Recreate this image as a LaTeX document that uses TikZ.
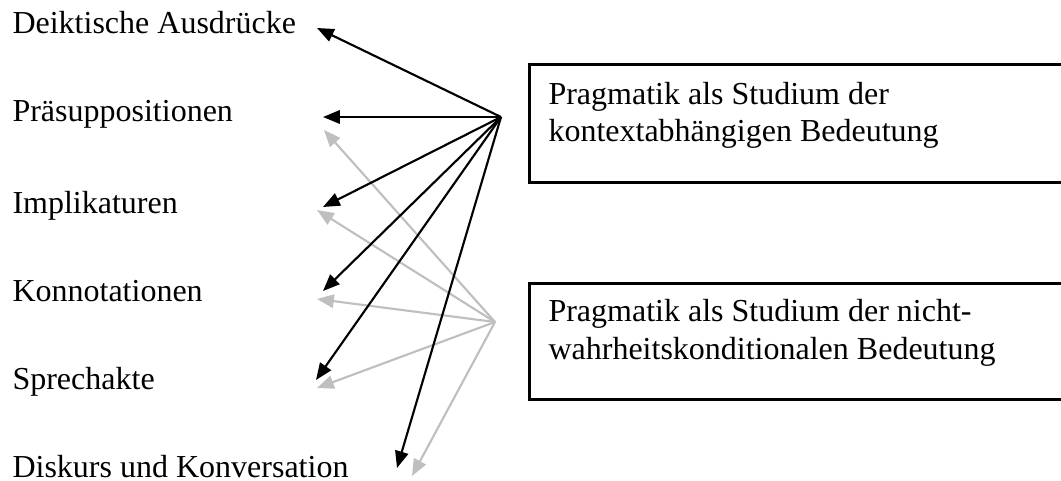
\documentclass[tikz,border=0pt]{standalone}
\usepackage{fontspec}
\setmainfont{Liberation Serif}
\usetikzlibrary{arrows.meta}
\definecolor{lightarrow}{HTML}{BFBFBF}
\tikzset{
  lbl/.style={anchor=base west, inner sep=0pt, font=\fontsize{12}{13.9}\selectfont},
  frame/.style={draw=black, line width=1.1pt, anchor=north west, inner sep=0pt},
  blk/.style={draw=black, line width=0.8pt, -{Triangle[length=6.3pt,width=5pt]}},
  gry/.style={draw=lightarrow, line width=0.8pt, -{Triangle[length=6.3pt,width=5pt]}},
}
\begin{document}
\begin{tikzpicture}[x=0.375pt, y=-0.375pt]
\useasboundingbox (0,0) rectangle (1061,481);
\clip (0,0) rectangle (1061,481);
% left labels
\node[lbl] (deik) at (12,34) {Deiktische Ausdrücke};
\node[lbl] (prae) at (12,122) {Präsuppositionen};
\node[lbl] (impl) at (12,213) {Implikaturen};
\node[lbl] (konn) at (12,301) {Konnotationen};
\node[lbl] (spre) at (12,390) {Sprechakte};
\node[lbl] (disk) at (12,477) {Diskurs und Konversation};
% boxes (extend past the right edge, as in the reference)
\node[frame, minimum width=900*0.375pt, minimum height=118*0.375pt] (box1) at (528,63) {};
\node[lbl] (box1a) at (548,105) {Pragmatik als Studium der};
\node[lbl] (box1b) at (548,142) {kontextabhängigen Bedeutung};
\node[frame, minimum width=900*0.375pt, minimum height=116*0.375pt] (box2) at (528,282) {};
\node[lbl] (box2a) at (548,322) {Pragmatik als Studium der nicht-};
\node[lbl] (box2b) at (548,359) {wahrheitskonditionalen Bedeutung};
% hubs
\coordinate (hubA) at (501,117);
\coordinate (hubB) at (495,322);
% arrow tips
\coordinate (a1) at (317,28);
\coordinate (a2) at (323,117);
\coordinate (a3) at (323,207);
\coordinate (a4) at (323,291);
\coordinate (a5) at (316,380);
\coordinate (a6) at (397,468);
\coordinate (b2) at (324,130);
\coordinate (b3) at (317,210);
\coordinate (b4) at (317,299);
\coordinate (b5) at (317,388);
\coordinate (b6) at (412,476);
% gray arrows
\foreach \t in {b2,b3,b4,b5,b6} \draw[gry] (hubB) -- (\t);
% black arrows
\foreach \t in {a1,a2,a3,a4,a5,a6} \draw[blk] (hubA) -- (\t);
\end{tikzpicture}
\end{document}
